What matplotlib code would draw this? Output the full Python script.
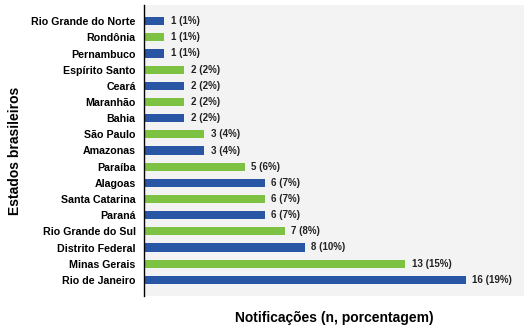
import matplotlib.pyplot as plt

plt.rcParams['font.family'] = ['Liberation Sans', 'DejaVu Sans']

estados = ["Rio Grande do Norte", "Rondônia", "Pernambuco", "Espírito Santo",
           "Ceará", "Maranhão", "Bahia", "São Paulo", "Amazonas", "Paraíba",
           "Alagoas", "Santa Catarina", "Paraná", "Rio Grande do Sul",
           "Distrito Federal", "Minas Gerais", "Rio de Janeiro"]
notificacoes = [1, 1, 1, 2, 2, 2, 2, 3, 3, 5, 6, 6, 6, 7, 8, 13, 16]
porcentagem = [1, 1, 1, 2, 2, 2, 2, 4, 4, 6, 7, 7, 7, 8, 10, 15, 19]

azul = "#2856a5"
verde = "#7dc242"
cores = [azul if i % 2 == 0 else verde for i in range(len(estados))]

fig = plt.figure(figsize=(5.28, 3.29), dpi=100)
ax = fig.add_axes([144 / 528, 1 - 296 / 329, 380 / 528, 291 / 329])
ax.set_facecolor("#f3f3f3")

pos = list(range(len(estados)))
ax.barh(pos, notificacoes, height=0.5, color=cores)

for y, n, p in zip(pos, notificacoes, porcentagem):
    ax.text(n + 0.33, y, f"{n} ({p}%)", va="center", ha="left",
            fontsize=7.0, fontweight="bold", color="#222222")

ax.set_yticks(pos)
ax.set_yticklabels(estados, fontsize=7.7, fontweight="bold")
ax.tick_params(axis="y", length=0, pad=6)
ax.set_xticks([])
ax.set_xlim(0, 18.9)
ax.set_ylim(len(estados), -1)

for s in ["top", "right", "bottom"]:
    ax.spines[s].set_visible(False)
ax.spines["left"].set_linewidth(1)

ax.set_xlabel("Notificações (n, porcentagem)", fontsize=10, fontweight="bold",
              labelpad=11)
ax.set_ylabel("Estados brasileiros", fontsize=10, fontweight="bold", labelpad=7)

fig.savefig("out.png", dpi=100)
